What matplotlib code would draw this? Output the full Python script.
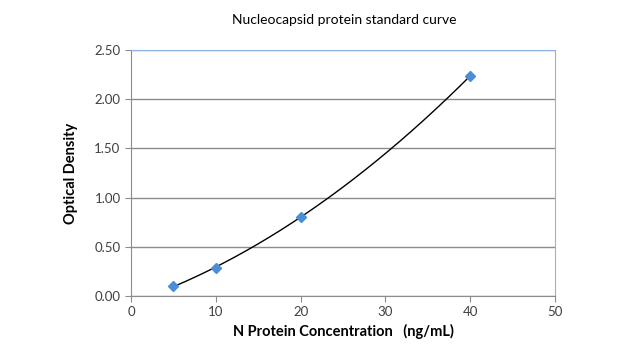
import numpy as np
import matplotlib
matplotlib.use("Agg")
import matplotlib.pyplot as plt

plt.rcParams['font.family'] = ['Lato', 'DejaVu Sans']

# standard curve data
conc = [5, 10, 20, 40]
od = [0.10, 0.285, 0.806, 2.236]
x_ticks = [0, 10, 20, 30, 40, 50]
y_ticks = [0.0, 0.5, 1.0, 1.5, 2.0, 2.5]

fig = plt.figure(figsize=(6.2, 3.6), dpi=100)
ax = fig.add_axes([0.2113, 0.1778, 0.6839, 0.6833])

# 2nd order polynomial trendline
coef = np.polyfit(conc, od, 2)
xs = np.linspace(min(conc), max(conc), 200)
ax.plot(xs, np.polyval(coef, xs), color='black', lw=1.0, zorder=3)
ax.plot(conc, od, linestyle='none', marker='D', ms=5, color='#4A8FD6', zorder=4)

ax.set_xlim(0, 50)
ax.set_ylim(0, 2.5)
ax.set_xticks(x_ticks)
ax.set_yticks(y_ticks)
ax.set_yticklabels(['%.2f' % v for v in y_ticks])
ax.grid(axis='y', color='#8c8c8c', lw=1.0)
ax.set_axisbelow(True)

for s in ['left', 'bottom']:
    ax.spines[s].set_color('#8c8c8c')
for s in ['top', 'right']:
    ax.spines[s].set_color('#8DB4E2')
ax.tick_params(axis='both', direction='out', length=4, color='#8c8c8c',
               labelsize=9.5, labelcolor='#404040')

ax.set_xlabel('N Protein Concentration   (ng/mL)', fontsize=10.5, fontweight='bold', labelpad=4)
ax.set_ylabel('Optical Density', fontsize=10.5, fontweight='bold', labelpad=12)
fig.text(0.556, 0.945, 'Nucleocapsid protein standard curve', ha='center', va='center', fontsize=10)

fig.savefig('out.png', dpi=100)
